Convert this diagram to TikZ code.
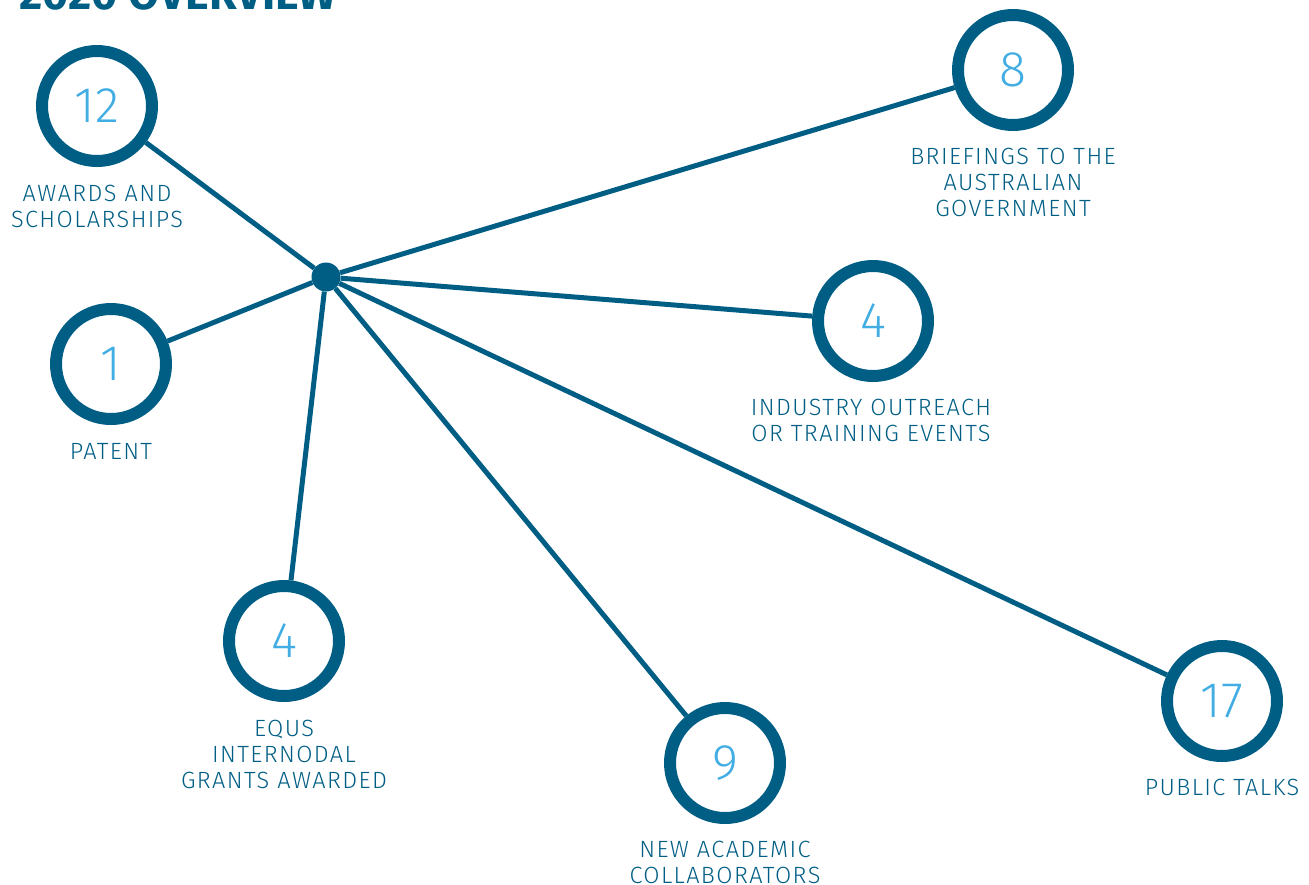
\documentclass[tikz,border=0pt]{standalone}
\usepackage{fontspec}
\setmainfont{Fira Sans}
\newfontfamily\lightfont{Fira Sans Light}
\newfontfamily\widelightfont{Fira Sans Light}[LetterSpace=6]
\usetikzlibrary{positioning}
\definecolor{eqdark}{HTML}{005E85}
\definecolor{eqlight}{HTML}{41ADE2}

\begin{document}
\begin{tikzpicture}[x=1pt,y=-1pt,
	stat/.style={circle,draw=eqdark,line width=12pt,minimum size=110pt,inner sep=0pt,text=eqlight,font=\lightfont\fontsize{50}{50}\selectfont},
	caption/.style={inner sep=0pt,align=center,text=eqdark,font=\widelightfont\fontsize{23.5}{26}\selectfont},
	spoke/.style={draw=eqdark,line width=5pt}]
	
	\useasboundingbox (0,0) rectangle (1309,884);
	
	\node[anchor=base west,text=eqdark,font=\bfseries\fontsize{45}{45}\selectfont] (title) at (16,9) {2020 OVERVIEW};
	
	\node[circle,fill=eqdark,minimum size=29pt,inner sep=0pt] (hub) at (326,277) {};
	
	\node[stat] (awards) at (97,106) {12};
	\node[stat] (briefings) at (1013,70) {8};
	\node[stat] (outreach) at (873,321) {4};
	\node[stat] (patent) at (111,364) {1};
	\node[stat] (grants) at (284,641) {4};
	\node[stat] (collab) at (725,763) {9};
	\node[stat] (talks) at (1222,701) {17};
	
	\node[caption,below=18pt of awards] (awardstext) {AWARDS AND\\SCHOLARSHIPS};
	\node[caption,below=17pt of briefings] (briefingstext) {BRIEFINGS TO THE\\AUSTRALIAN\\GOVERNMENT};
	\node[caption,below=17pt of outreach,xshift=-2pt] (outreachtext) {INDUSTRY OUTREACH\\OR TRAINING EVENTS};
	\node[caption,below=18pt of patent] (patenttext) {PATENT};
	\node[caption,below=18pt of grants] (grantstext) {EQUS\\INTERNODAL\\GRANTS AWARDED};
	\node[caption,below=17pt of collab] (collabtext) {NEW ACADEMIC\\COLLABORATORS};
	\node[caption,below=17pt of talks] (talkstext) {PUBLIC TALKS};
	
	% spokes from the hub
	\foreach \n in {awards,briefings,outreach,patent,grants,collab,talks}
	\path[spoke] (hub) -- (\n);
	
\end{tikzpicture}
\end{document}
